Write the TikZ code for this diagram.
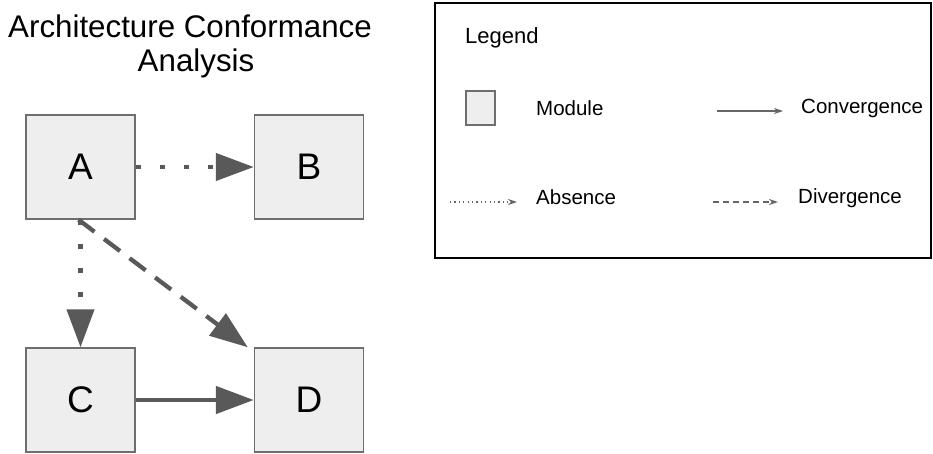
\documentclass[tikz,border=0pt]{standalone}
\usepackage{fontspec}
\setmainfont{Liberation Sans}
\usetikzlibrary{arrows.meta}
\definecolor{boxfill}{HTML}{EEEEEE}
\definecolor{boxline}{HTML}{6E6E6E}
\definecolor{arrowgray}{HTML}{595959}
\definecolor{legendgray}{HTML}{666666}
\tikzset{
  module/.style={draw=boxline, fill=boxfill, line width=1.4pt,
    minimum width=109pt, minimum height=104pt, inner sep=0pt,
    font=\fontsize{37}{40}\selectfont},
  titletext/.style={anchor=base, inner sep=0pt, font=\fontsize{31.3}{34}\selectfont},
  relation/.style={draw=arrowgray, line width=4.3pt,
    -{Triangle[length=38pt,width=27pt]}},
  absence/.style={relation, dash pattern=on 5pt off 19pt},
  divergence/.style={relation, dash pattern=on 20pt off 12pt},
  convergence/.style={relation, line width=4.8pt},
  legendtext/.style={anchor=base west, inner sep=0pt, font=\fontsize{20.5}{22}\selectfont},
  legendarrow/.style={draw=legendgray, line width=1.2pt,
    -{Stealth[length=9pt,width=6pt]}},
}
\begin{document}
\begin{tikzpicture}[x=1pt,y=-1pt]
  \useasboundingbox (0,0) rectangle (933,453);

  % title, two centred lines
  \node[titletext] (title1) at (190,37) {Architecture Conformance};
  \node[titletext] (title2) at (196,71) {Analysis};

  % modules
  \node[module] (A) at (80.5,167) {A};
  \node[module] (B) at (309,167) {B};
  \node[module] (C) at (80.5,400) {C};
  \node[module] (D) at (309,400) {D};

  % relations
  \draw[absence] (A.east) -- (B.west);
  \draw[absence] (A.south) -- (C.north);
  \draw[divergence] ([xshift=-2pt]A.south) -- ([xshift=-6pt]D.north west);
  \draw[convergence] (C.east) -- (D.west);

  % legend frame
  \node[draw=black, line width=2pt, minimum width=496pt, minimum height=255pt,
        inner sep=0pt] (legend) at (683,130.5) {};
  \node[legendtext, font=\fontsize{22}{24}\selectfont] (legtitle) at (465,43) {Legend};

  % legend entries
  \node[draw=boxline, fill=boxfill, line width=1.2pt, minimum width=29pt,
        minimum height=34pt, inner sep=0pt] (legmod) at (480.5,108) {};
  \node[legendtext] (modlabel) at (536,115) {Module};

  \coordinate (convA) at (717,111);
  \coordinate (convB) at (783,111);
  \draw[legendarrow] (convA) -- (convB);
  \node[legendtext] (convlabel) at (801,113) {Convergence};

  \coordinate (absA) at (450,202);
  \coordinate (absB) at (517,202);
  \draw[legendarrow, dash pattern=on 1.2pt off 3.2pt] (absA) -- (absB);
  \node[legendtext] (abslabel) at (536,204) {Absence};

  \coordinate (divA) at (713,202);
  \coordinate (divB) at (778,202);
  \draw[legendarrow, dash pattern=on 6pt off 4pt] (divA) -- (divB);
  \node[legendtext] (divlabel) at (798,203) {Divergence};
\end{tikzpicture}
\end{document}
